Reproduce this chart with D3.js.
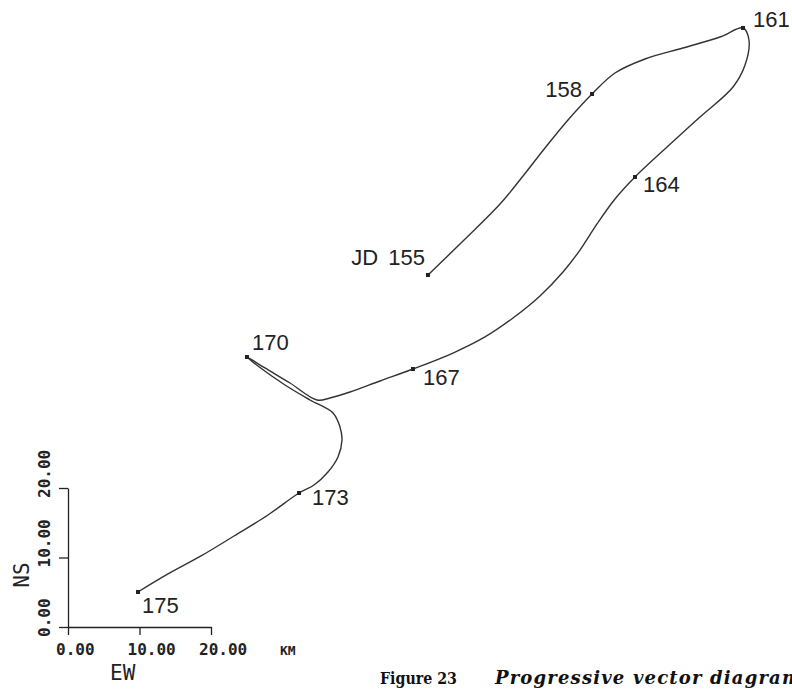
<!DOCTYPE html>
<html>
<head>
<meta charset="utf-8">
<script src="https://cdn.jsdelivr.net/npm/d3@7"></script>
<style>
  body { margin: 0; background: #fff; }
  svg { display: block; }
</style>
</head>
<body>
<div id="chart"></div>
<script>
// progressive vector diagram, positions in km (EW, NS)
const trackEW = [50.35, 55.39, 60.42, 63.64, 66.71, 69.93, 73.29, 76.50, 80.70, 86.01,
                 91.19, 94.41, 95.24, 94.69, 93.01, 88.39, 83.78, 79.30, 76.50, 73.99,
                 71.61, 69.23, 66.01, 62.24, 58.32, 53.85, 48.25, 43.64, 39.44, 36.64,
                 34.83, 31.05, 27.55, 25.03, 26.57, 30.35, 33.85, 37.06, 38.04, 38.32,
                 37.76, 36.36, 34.41, 32.31, 27.97, 23.22, 18.60, 13.99, 9.79];
const trackNS = [50.65, 55.68, 60.86, 64.89, 68.92, 72.95, 76.69, 79.71, 81.73, 83.31,
                 84.89, 86.19, 84.46, 80.86, 77.70, 73.38, 69.06, 64.75, 61.58, 57.99,
                 54.24, 51.08, 47.63, 44.46, 41.73, 39.42, 37.12, 35.40, 33.81, 32.95,
                 32.66, 35.11, 37.27, 38.85, 37.55, 34.82, 32.66, 30.79, 28.78, 26.91,
                 24.46, 22.30, 20.43, 19.28, 16.12, 13.09, 10.22, 7.63, 5.04];

const dayLabels = ['JD 155', '158', '161', '164', '167', '170', '173', '175'];
const dayEW = [50.35, 73.29, 94.41, 79.30, 48.25, 25.03, 32.31, 9.79];
const dayNS = [50.65, 76.69, 86.19, 64.75, 37.12, 38.85, 19.28, 5.04];

const tickValues = [0, 10, 20];
const tickLabels = ['0.00', '10.00', '20.00'];

// label placement relative to its point (px)
const labelOffsets = [
  { dx: -3, dy: -10, anchor: 'end' },
  { dx: -10, dy: 3, anchor: 'end' },
  { dx: 10, dy: -1, anchor: 'start' },
  { dx: 8, dy: 15, anchor: 'start' },
  { dx: 10, dy: 16, anchor: 'start' },
  { dx: 5, dy: -7, anchor: 'start' },
  { dx: 13, dy: 12, anchor: 'start' },
  { dx: 4, dy: 21, anchor: 'start' }
];

const width = 792, height = 689;

const svg = d3.select('#chart')
    .append('svg')
    .attr('width', width)
    .attr('height', height);

const x = d3.scaleLinear().domain([0, 20]).range([68, 211]);
const y = d3.scaleLinear().domain([0, 20]).range([627, 488]);

// axes
const xAxis = svg.append('g')
    .attr('transform', `translate(0, ${y(0)})`)
    .call(d3.axisBottom(x).tickValues(tickValues).tickSize(8).tickSizeOuter(0).tickFormat(''));
const yAxis = svg.append('g')
    .attr('transform', `translate(${x(0)}, 0)`)
    .call(d3.axisLeft(y).tickValues(tickValues).tickSize(9).tickSizeOuter(0).tickFormat(''));

[xAxis, yAxis].forEach(g => {
    g.select('.domain').attr('stroke', '#222').attr('stroke-width', 1.3);
    g.selectAll('.tick line').attr('stroke', '#222').attr('stroke-width', 1.3);
});

const monoFont = '"DejaVu Sans Mono", monospace';

svg.selectAll('.xlab')
    .data(tickValues)
    .enter().append('text')
    .attr('class', 'xlab')
    .attr('x', d => x(d) - 12)
    .attr('y', 655)
    .attr('font-family', monoFont)
    .attr('font-weight', 'bold')
    .attr('font-size', 16)
    .attr('fill', '#222')
    .text((d, i) => tickLabels[i]);

svg.selectAll('.ylab')
    .data(tickValues)
    .enter().append('text')
    .attr('class', 'ylab')
    .attr('transform', d => `translate(50, ${y(d) + 10}) rotate(-90)`)
    .attr('font-family', monoFont)
    .attr('font-weight', 'bold')
    .attr('font-size', 16)
    .attr('fill', '#222')
    .text((d, i) => tickLabels[i]);

svg.append('text')
    .attr('x', 280).attr('y', 655)
    .attr('font-family', monoFont)
    .attr('font-weight', 'bold')
    .attr('font-size', 13)
    .attr('fill', '#222')
    .text('KM');

svg.append('text')
    .attr('x', 110).attr('y', 680)
    .attr('font-family', monoFont)
    .attr('font-size', 21)
    .attr('fill', '#222')
    .text('EW');

svg.append('text')
    .attr('transform', 'translate(29, 575) rotate(-90)')
    .attr('text-anchor', 'middle')
    .attr('font-family', monoFont)
    .attr('font-size', 21)
    .attr('fill', '#222')
    .text('NS');

// track
const line = d3.line()
    .x(d => x(d[0]))
    .y(d => y(d[1]))
    .curve(d3.curveCatmullRom.alpha(0.5));

svg.append('path')
    .datum(trackEW.map((e, i) => [e, trackNS[i]]))
    .attr('fill', 'none')
    .attr('stroke', '#333')
    .attr('stroke-width', 1.4)
    .attr('d', line);

// day markers
svg.selectAll('.mark')
    .data(dayEW)
    .enter().append('rect')
    .attr('class', 'mark')
    .attr('x', d => x(d) - 2)
    .attr('y', (d, i) => y(dayNS[i]) - 2)
    .attr('width', 4)
    .attr('height', 4)
    .attr('fill', '#222');

svg.selectAll('.daylab')
    .data(dayLabels)
    .enter().append('text')
    .attr('class', 'daylab')
    .attr('x', (d, i) => x(dayEW[i]) + labelOffsets[i].dx)
    .attr('y', (d, i) => y(dayNS[i]) + labelOffsets[i].dy)
    .attr('text-anchor', (d, i) => labelOffsets[i].anchor)
    .attr('font-family', '"Liberation Sans", Arial, sans-serif')
    .attr('font-size', 22)
    .attr('word-spacing', 4)
    .attr('fill', '#222')
    .text(d => d);

// caption
svg.append('text')
    .attr('x', 380).attr('y', 684)
    .attr('font-family', '"DejaVu Serif", serif')
    .attr('font-weight', 'bold')
    .attr('font-size', 16)
    .attr('fill', '#111')
    .attr('textLength', 77)
    .attr('lengthAdjust', 'spacingAndGlyphs')
    .text('Figure 23');

svg.append('text')
    .attr('x', 495).attr('y', 684)
    .attr('font-family', '"DejaVu Serif", serif')
    .attr('font-weight', 'bold')
    .attr('font-style', 'italic')
    .attr('font-size', 18)
    .attr('fill', '#111')
    .attr('textLength', 306)
    .attr('lengthAdjust', 'spacing')
    .text('Progressive vector diagram');
</script>
</body>
</html>
